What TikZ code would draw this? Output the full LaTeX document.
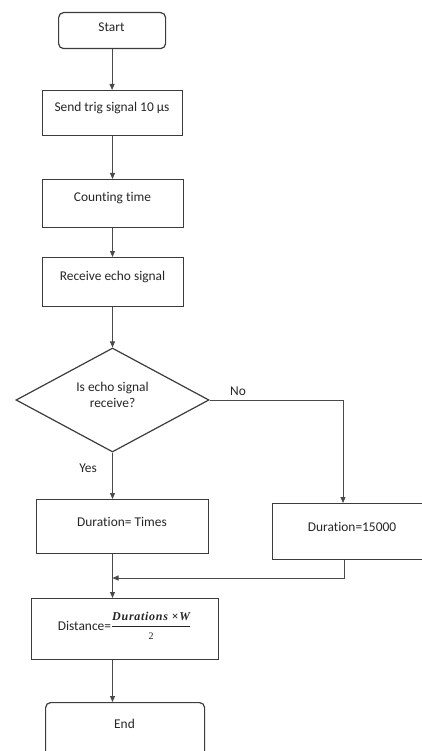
\documentclass[tikz,border=0pt]{standalone}
\usepackage{amsmath}
\usepackage{fontspec}
\setmainfont{Carlito}[Ligatures={NoCommon}]
\newfontfamily\numfont[LetterSpace=6]{Liberation Serif}
\usetikzlibrary{arrows.meta,calc,shapes.geometric}
\definecolor{edgec}{HTML}{3C3C3C}
\definecolor{connc}{HTML}{4A4A4A}
\begin{document}
\begin{tikzpicture}[x=1pt,y=-1pt,
  font=\fontsize{13.4}{16.5}\selectfont,
  box/.style={draw=edgec,line width=1.2pt,rectangle,inner sep=0pt,anchor=north west},
  term/.style={box,rounded corners=5pt},
  txt/.style={inner sep=0pt,text=black!85,align=center},
  conn/.style={draw=connc,line width=0.9pt,-{Triangle[length=6pt,width=5pt]}},
  plain/.style={draw=connc,line width=0.9pt}]
\useasboundingbox (0,0) rectangle (422,751);
\clip (0,0) rectangle (422,751);
\fill[white] (0,0) rectangle (422,751);
% boxes
\node[term,minimum width=107pt,minimum height=36pt] (s) at (58,12) {};
\node[txt] (t1) at (111.5,27) {Start};
\node[box,minimum width=140pt,minimum height=45pt] (b1) at (42,90) {};
\node[txt] (t2) at (112,108) {Send trig signal 10 µs};
\node[box,minimum width=141pt,minimum height=48pt] (b2) at (42,179) {};
\node[txt] (t3) at (112.5,198) {Counting time};
\node[box,minimum width=141pt,minimum height=49pt] (b3) at (42,257) {};
\node[txt] (t4) at (112.5,277) {Receive echo signal};
\node[draw=edgec,line width=1.2pt,diamond,minimum width=193pt,minimum height=104pt,
      inner sep=0pt,shape aspect=1.856] (d) at (112.5,400) {};
\node[txt] (t5) at (112.5,395) {Is echo signal\\receive?};
\node[box,minimum width=172pt,minimum height=54pt] (dt) at (36,499) {};
\node[txt] (t6) at (122,522) {Duration= Times};
\node[box,minimum width=160pt,minimum height=56pt] (n) at (272,503) {};
\node[txt] (t7) at (352,527) {Duration=15000};
\node[box,minimum width=187pt,minimum height=61pt] (dist) at (31,598) {};
\node[txt] (t8) at (124.5,626) {Distance=$\genfrac{}{}{1.6pt}{0}{\text{\numfont\bfseries\itshape\fontsize{12}{14}\selectfont Durations ×W}}{\text{\numfont\fontsize{10}{12}\selectfont 2}}$};
\node[term,minimum width=159pt,minimum height=70pt] (e) at (45,702) {};
\node[txt] (t9) at (124.5,723.5) {End};
% labels
\node[txt] (no) at (238,391) {No};
\node[txt] (yes) at (88,468) {Yes};
% connectors
\coordinate (noX) at (343,400);
\coordinate (ret) at (344,578);
\draw[conn] (s.south) -- (b1.north -| s.south);
\draw[conn] (b1.south -| d.north) -- (b2.north -| d.north);
\draw[conn] (b2.south -| d.north) -- (b3.north -| d.north);
\draw[conn] (b3.south -| d.north) -- (d.north);
\draw[conn] (d.south) -- (dt.north -| d.south);
\draw[conn] (d.east) -- (noX) -- (n.north -| noX);
\draw[conn] (dt.south -| d.south) -- (dist.north -| d.south);
\draw[conn] (n.south -| ret) -- (ret) -- (ret -| d.south);
\draw[conn] (dist.south -| d.south) -- (e.north -| d.south);
\end{tikzpicture}
\end{document}
